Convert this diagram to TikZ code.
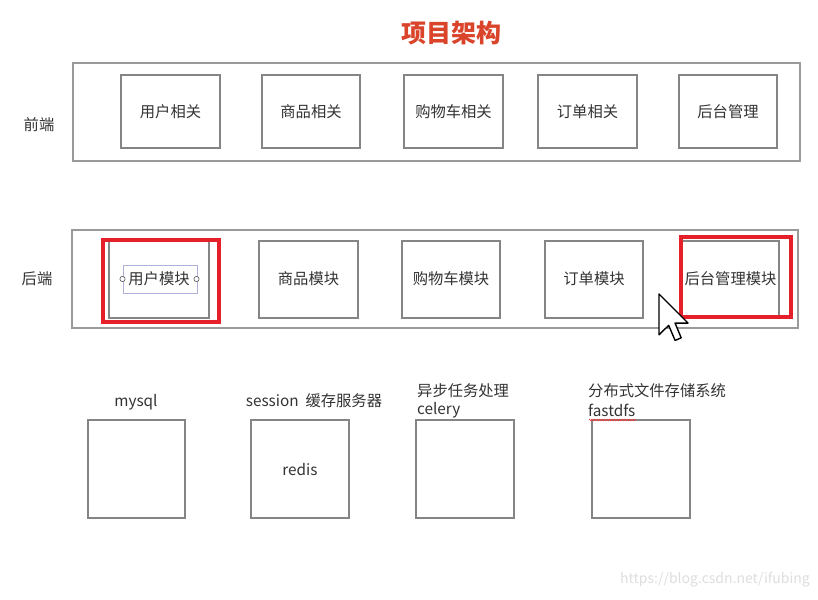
\documentclass[tikz,border=0pt]{standalone}
\usepackage{fontspec}
\setmainfont{Noto Sans CJK SC}
\usetikzlibrary{decorations.pathmorphing}
\definecolor{boxgray}{HTML}{858585}
\definecolor{outergray}{HTML}{9A9A9A}
\definecolor{titlered}{HTML}{D9442B}
\definecolor{hlred}{HTML}{E5202A}
\definecolor{txt}{HTML}{333333}
\tikzset{
  outerbox/.style={draw=outergray, line width=1.8pt},
  modbox/.style={draw=boxgray, line width=1.6pt, fill=white},
  hlbox/.style={draw=hlred, line width=3.4pt},
  lbl/.style={font=\fontsize{15.3pt}{18pt}\selectfont, text=txt, inner sep=0pt},
}
\begin{document}
\begin{tikzpicture}[x=1pt,y=-1pt]
\useasboundingbox (0,0) rectangle (818,599);
\fill[white] (0,0) rectangle (818,599);
% title
\node[font=\fontsize{25pt}{29pt}\selectfont\bfseries, text=titlered] (title) at (451,33) {项目架构};
% front end
\draw[outerbox] (73,63) rectangle (800,161);
\node[lbl] (fe) at (39,125) {前端};
\foreach \xa/\xb/\t/\n in {121/220/用户相关/f1, 262/360/商品相关/f2, 404/503/购物车相关/f3, 538/637/订单相关/f4, 679/777/后台管理/f5}{
  \draw[modbox] (\xa,75) rectangle (\xb,148);
  \node[lbl] (\n) at ({(\xa+\xb)/2},112) {\t};
}
% back end
\draw[outerbox] (72,230) rectangle (798,328);
\node[lbl] (be) at (37,279) {后端};
\foreach \xa/\xb/\t/\n in {109/209/用户模块/b1, 259/358/商品模块/b2, 402/500/购物车模块/b3, 545/643/订单模块/b4, 682/779/后台管理模块/b5}{
  \draw[modbox] (\xa,241) rectangle (\xb,318);
  \node[lbl] (\n) at ({(\xa+\xb)/2},279) {\t};
}
% selection handles on first back-end label
\draw[draw={rgb,255:red,175;green,175;blue,220}, line width=0.6pt] (123,265) rectangle (197,293);
\draw[black!60, line width=0.7pt, fill=white] (122.5,279) circle (2.6);
\draw[black!60, line width=0.7pt, fill=white] (196.5,279) circle (2.6);
% highlight boxes
\draw[hlbox] (103,240) rectangle (219,322);
\draw[hlbox] (681,237) rectangle (791,317);
% mouse cursor
\draw[black, line width=1.4pt, fill=white, line join=round, shift={(659,294)}, scale=2.55]
  (0,0) -- (0,16) -- (3.8,12.3) -- (6.3,18.2) -- (8.7,17.2) -- (6.3,11.4) -- (11.4,11.4) -- cycle;
% bottom services
\draw[modbox] (88,420) rectangle (185,518);
\node[lbl] (mysql) at (136,402) {mysql};
\draw[modbox] (251,420) rectangle (349,518);
\node[lbl] (sess) at (314,401) {session\ \ 缓存服务器};
\node[lbl] (redis) at (300,470) {redis};
\draw[modbox] (416,420) rectangle (514,518);
\node[lbl, anchor=west] (async) at (417,391) {异步任务处理};
\node[lbl, anchor=west] (celery) at (417,410) {celery};
\draw[modbox] (592,420) rectangle (690,518);
\node[lbl, anchor=west] (dist) at (588,391) {分布式文件存储系统};
\node[lbl, anchor=west] (fdfs) at (588,410) {fastdfs};
\draw[red!80, line width=0.6pt, decorate, decoration={zigzag, amplitude=0.8pt, segment length=2.5pt}] (589,420) -- (636,420);
% watermark
\node[font=\fontsize{14pt}{16pt}\selectfont, text=black!13, inner sep=0pt] (wm) at (715,580) {https://blog.csdn.net/ifubing};
\end{tikzpicture}
\end{document}
